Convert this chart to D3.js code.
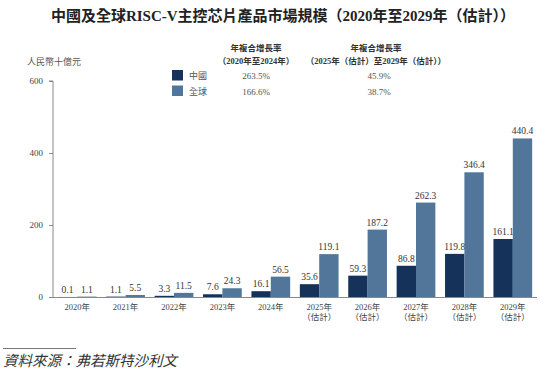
<!DOCTYPE html>
<html><head><meta charset="utf-8">
<script src="https://cdn.jsdelivr.net/npm/d3@7"></script>
<style>
html,body{margin:0;padding:0;background:#fff;}
svg text{font-family:"Liberation Serif","Noto Sans CJK TC",serif;fill:#333;}
</style></head>
<body><svg id="c" width="550" height="378"></svg>
<script>
const categories = ["2020年","2021年","2022年","2023年","2024年","2025年","2026年","2027年","2028年","2029年"];
const subLabels = ["","","","","","（估計）","（估計）","（估計）","（估計）","（估計）"];
const chinaValues = [0.1,1.1,3.3,7.6,16.1,35.6,59.3,86.8,119.8,161.1];
const globalValues = [1.1,5.5,11.5,24.3,56.5,119.1,187.2,262.3,346.4,440.4];
const seriesNames = ["中國","全球"];
const cagr1 = ["263.5%","166.6%"];
const cagr2 = ["45.9%","38.7%"];
const yTicks = [0,200,400,600];
const colors = ["#15325a","#52769a"];

const svg = d3.select("#c");
const x0 = 53, x1 = 537, yBase = 297, yTop = 81;
const x = d3.scaleBand().domain(categories).range([x0,x1]).paddingInner(0.2).paddingOuter(0.1);
const xs = d3.scaleBand().domain([0,1]).range([0,x.bandwidth()]);
const y = d3.scaleLinear().domain([0,600]).range([yBase,yTop]);

// title
svg.append("text").attr("x",283).attr("y",21).attr("text-anchor","middle")
  .style("font-size","15px").style("font-weight","bold").style("fill","#222")
  .text("中國及全球RISC-V主控芯片產品市場規模（2020年至2029年（估計））");

// unit
svg.append("text").attr("x",27).attr("y",65).style("font-size","9px").style("fill","#555").text("人民幣十億元");

// y axis
const yAxis = d3.axisLeft(y).tickValues(yTicks).tickSize(4).tickPadding(6);
const gy = svg.append("g").attr("transform",`translate(${x0},0)`).call(yAxis);
gy.select(".domain").attr("stroke","#888").attr("d",`M-4,${yTop}H0V${yBase}`);
gy.selectAll(".tick line").attr("stroke","#888");
gy.selectAll(".tick text").style("font-size","9px").style("fill","#444")
  .style("font-family","'Liberation Serif',serif");

// bars
const data = categories.map((c,i)=>({c,i,v:[chinaValues[i],globalValues[i]]}));
const g = svg.append("g");
data.forEach(d=>{
  d.v.forEach((v,k)=>{
    g.append("rect").attr("x",x(d.c)+xs(k)).attr("y",y(v))
      .attr("width",xs.bandwidth()).attr("height",yBase-y(v)).attr("fill",colors[k]);
    g.append("text").attr("x",x(d.c)+xs(k)+xs.bandwidth()/2).attr("y",y(v)-4)
      .attr("text-anchor","middle").style("font-size","9.5px").style("fill","#333")
      .text(v.toFixed(1));
  });
});

// x axis
const xAxis = d3.axisBottom(x).tickSize(0).tickPadding(0).tickFormat(()=>"");
const gx = svg.append("g").attr("transform",`translate(0,${yBase})`).call(xAxis);
gx.select(".domain").attr("stroke","#888").attr("d",`M${x0},0.5H${x1}`);
categories.forEach((c,i)=>{
  const t = svg.append("text").attr("x",x(c)+x.bandwidth()/2).attr("y",yBase+13)
    .attr("text-anchor","middle").style("font-size","8.5px").style("fill","#444");
  t.append("tspan").attr("x",x(c)+x.bandwidth()/2).text(c);
  if (subLabels[i]) t.append("tspan").attr("x",x(c)+x.bandwidth()/2).attr("dy","9.5").text(subLabels[i]);
});

// legend
const lx = 172, col1 = 256, col2 = 376;
svg.append("text").attr("x",col1).attr("y",51).attr("text-anchor","middle").style("font-size","8.5px").style("font-weight","bold").text("年複合增長率");
svg.append("text").attr("x",col1).attr("y",64).attr("text-anchor","middle").style("font-size","8.5px").style("font-weight","bold").text("（2020年至2024年）");
svg.append("text").attr("x",col2).attr("y",51).attr("text-anchor","middle").style("font-size","8.5px").style("font-weight","bold").text("年複合增長率");
svg.append("text").attr("x",col2).attr("y",64).attr("text-anchor","middle").style("font-size","8.5px").style("font-weight","bold").text("（2025年（估計）至2029年（估計））");
seriesNames.forEach((n,k)=>{
  const yy = 70 + k*15.5;
  svg.append("rect").attr("x",lx).attr("y",yy).attr("width",11).attr("height",10.5).attr("fill",colors[k]);
  svg.append("text").attr("x",lx+17).attr("y",yy+9).style("font-size","9px").style("fill","#555").text(n);
  svg.append("text").attr("x",col1).attr("y",yy+9).attr("text-anchor","middle").style("font-size","9px").style("fill","#555").text(cagr1[k]);
  svg.append("text").attr("x",col2+3).attr("y",yy+9).attr("text-anchor","middle").style("font-size","9px").style("fill","#555").text(cagr2[k]);
});

// footer
svg.append("line").attr("x1",3).attr("x2",76).attr("y1",348.5).attr("y2",348.5).attr("stroke","#777").attr("stroke-width",1);
svg.append("text").attr("x",3).attr("y",366).style("font-size","14.5px").style("font-style","italic").style("fill","#333").text("資料來源：弗若斯特沙利文");
</script></body></html>
